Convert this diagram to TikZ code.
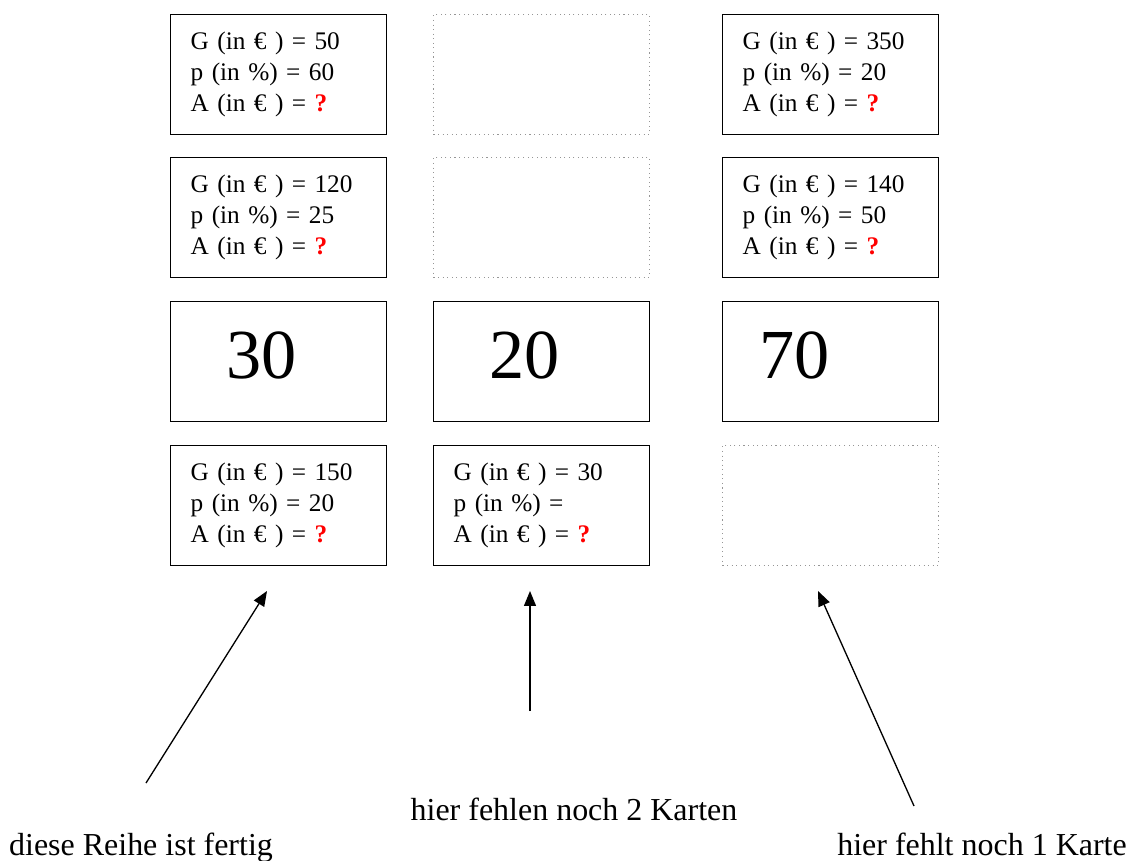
\documentclass[tikz,border=0pt]{standalone}
\usepackage{fontspec}
\setmainfont{Liberation Serif}
\usetikzlibrary{arrows.meta,positioning}
\definecolor{qmark}{RGB}{255,0,0}
\definecolor{dotgray}{RGB}{150,150,150}

\newcommand{\ask}{\textcolor{qmark}{\textbf{?}}}

\begin{document}
\begin{tikzpicture}[
        x=0.02cm, y=-0.02cm,
        card/.style={rectangle, draw, line width=0.8pt, anchor=north west, minimum width=4.32cm, minimum height=2.4cm, inner xsep=0.4cm, text width=3.52cm, align=left, font=\fontsize{14.4}{17.6}\selectfont},
        blank/.style={rectangle, draw=dotgray, dotted, line width=0.6pt, anchor=north west, minimum width=4.32cm, minimum height=2.4cm},
        numcard/.style={rectangle, draw, line width=0.8pt, anchor=north west, minimum width=4.32cm, minimum height=2.4cm, inner xsep=0pt, text width=4.32cm, align=left, text depth=7pt, font=\fontsize{40}{48}\selectfont},
        note/.style={anchor=base, font=\fontsize{18.2}{22}\selectfont},
        arrow/.style={-{Triangle[length=0.3cm, width=0.24cm]}, line width=0.75pt}
    ]
        \useasboundingbox (0,0) rectangle (1136,861);

        % Row 1
        \node[card] (g50) at (170,14) {G (in € ) = 50\\p (in \%) = 60\\A (in € ) = \ask};
        \node[blank] (blank1) at (433,14) {};
        \node[card] (g350) at (722,14) {G (in € ) = 350\\p (in \%) = 20\\A (in € ) = \ask};

        % Row 2
        \node[card] (g120) at (170,157) {G (in € ) = 120\\p (in \%) = 25\\A (in € ) = \ask};
        \node[blank] (blank2) at (433,157) {};
        \node[card] (g140) at (722,157) {G (in € ) = 140\\p (in \%) = 50\\A (in € ) = \ask};

        % Numbers
        \node[numcard] (n30) at (170,301) {\hspace*{1.12cm}30};
        \node[numcard] (n20) at (433,301) {\hspace*{1.12cm}20};
        \node[numcard] (n70) at (722,301) {\hspace*{0.74cm}70};

        % Row 4
        \node[card] (g150) at (170,445) {G (in € ) = 150\\p (in \%) = 20\\A (in € ) = \ask};
        \node[card] (g30) at (433,445) {G (in € ) = 30\\p (in \%) =\\A (in € ) = \ask};
        \node[blank] (blank3) at (722,445) {};

        % Notes
        \node[note] (done) at (141,855) {diese Reihe ist fertig};
        \node[note] (twoleft) at (574,820) {hier fehlen noch 2 Karten};
        \node[note] (oneleft) at (982,855) {hier fehlt noch 1 Karte};

        % Arrows
        \coordinate (tail1) at (146,783);
        \coordinate (tip1) at (267,591);
        \coordinate (tail2) at (530,711);
        \coordinate (tip2) at (530,591);
        \coordinate (tail3) at (914,806);
        \coordinate (tip3) at (818,591);
        \draw[arrow] (tail1) -- (tip1);
        \draw[arrow] (tail2) -- (tip2);
        \draw[arrow] (tail3) -- (tip3);
    \end{tikzpicture}
\end{document}
